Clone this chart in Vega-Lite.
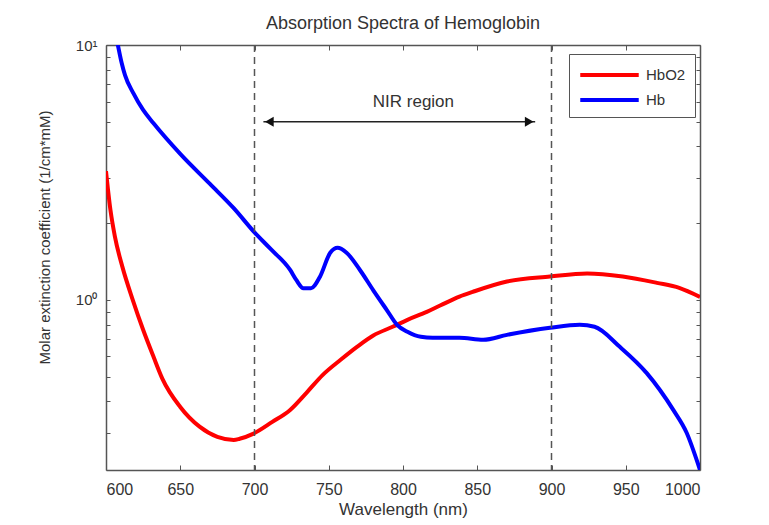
{
  "$schema": "https://vega.github.io/schema/vega-lite/v6.json",
  "width": 594,
  "height": 425,
  "autosize": {"type": "none"},
  "padding": {"left": 106, "top": 45, "right": 69, "bottom": 55},
  "background": "white",
  "config": {
    "view": {"stroke": null},
    "font": "Liberation Sans",
    "axis": {"domainColor": "#555", "tickColor": "#555", "labelColor": "#333", "labelFontSize": 16, "titleFontSize": 17, "titleFontWeight": "normal", "titleColor": "#333", "grid": false, "domainWidth": 1.5}
  },
  "title": {"text": "Absorption Spectra of Hemoglobin", "fontSize": 18, "fontWeight": "normal", "color": "#333", "offset": 5, "anchor": "middle"},
  "datasets": {
    "spectra": [
      {"wl": 600, "value": 3.2, "series": "HbO2"},
      {"wl": 603, "value": 2.25, "series": "HbO2"},
      {"wl": 606, "value": 1.77, "series": "HbO2"},
      {"wl": 611, "value": 1.35, "series": "HbO2"},
      {"wl": 618, "value": 1.0, "series": "HbO2"},
      {"wl": 625, "value": 0.763, "series": "HbO2"},
      {"wl": 632, "value": 0.598, "series": "HbO2"},
      {"wl": 638, "value": 0.49, "series": "HbO2"},
      {"wl": 650, "value": 0.38, "series": "HbO2"},
      {"wl": 663, "value": 0.318, "series": "HbO2"},
      {"wl": 675, "value": 0.29, "series": "HbO2"},
      {"wl": 686, "value": 0.282, "series": "HbO2"},
      {"wl": 690, "value": 0.285, "series": "HbO2"},
      {"wl": 699, "value": 0.298, "series": "HbO2"},
      {"wl": 712, "value": 0.332, "series": "HbO2"},
      {"wl": 724, "value": 0.37, "series": "HbO2"},
      {"wl": 735, "value": 0.432, "series": "HbO2"},
      {"wl": 746, "value": 0.508, "series": "HbO2"},
      {"wl": 758, "value": 0.582, "series": "HbO2"},
      {"wl": 769, "value": 0.654, "series": "HbO2"},
      {"wl": 780, "value": 0.725, "series": "HbO2"},
      {"wl": 793, "value": 0.784, "series": "HbO2"},
      {"wl": 803, "value": 0.835, "series": "HbO2"},
      {"wl": 816, "value": 0.897, "series": "HbO2"},
      {"wl": 825, "value": 0.95, "series": "HbO2"},
      {"wl": 838, "value": 1.03, "series": "HbO2"},
      {"wl": 847, "value": 1.075, "series": "HbO2"},
      {"wl": 870, "value": 1.18, "series": "HbO2"},
      {"wl": 899, "value": 1.235, "series": "HbO2"},
      {"wl": 924, "value": 1.27, "series": "HbO2"},
      {"wl": 948, "value": 1.235, "series": "HbO2"},
      {"wl": 971, "value": 1.166, "series": "HbO2"},
      {"wl": 986, "value": 1.115, "series": "HbO2"},
      {"wl": 1000, "value": 1.027, "series": "HbO2"},
      {"wl": 600, "value": 18, "series": "Hb"},
      {"wl": 608, "value": 10.0, "series": "Hb"},
      {"wl": 610.6, "value": 8.48, "series": "Hb"},
      {"wl": 612.8, "value": 7.62, "series": "Hb"},
      {"wl": 618.4, "value": 6.47, "series": "Hb"},
      {"wl": 625, "value": 5.56, "series": "Hb"},
      {"wl": 632, "value": 4.93, "series": "Hb"},
      {"wl": 650, "value": 3.74, "series": "Hb"},
      {"wl": 670, "value": 2.85, "series": "Hb"},
      {"wl": 686, "value": 2.29, "series": "Hb"},
      {"wl": 700, "value": 1.84, "series": "Hb"},
      {"wl": 711, "value": 1.58, "series": "Hb"},
      {"wl": 724, "value": 1.31, "series": "Hb"},
      {"wl": 728, "value": 1.2, "series": "Hb"},
      {"wl": 733, "value": 1.11, "series": "Hb"},
      {"wl": 738, "value": 1.11, "series": "Hb"},
      {"wl": 744, "value": 1.23, "series": "Hb"},
      {"wl": 751, "value": 1.53, "series": "Hb"},
      {"wl": 756, "value": 1.6, "series": "Hb"},
      {"wl": 762, "value": 1.53, "series": "Hb"},
      {"wl": 771, "value": 1.31, "series": "Hb"},
      {"wl": 780, "value": 1.09, "series": "Hb"},
      {"wl": 789, "value": 0.914, "series": "Hb"},
      {"wl": 796, "value": 0.798, "series": "Hb"},
      {"wl": 803, "value": 0.749, "series": "Hb"},
      {"wl": 812, "value": 0.716, "series": "Hb"},
      {"wl": 820, "value": 0.71, "series": "Hb"},
      {"wl": 838, "value": 0.71, "series": "Hb"},
      {"wl": 854, "value": 0.697, "series": "Hb"},
      {"wl": 870, "value": 0.729, "series": "Hb"},
      {"wl": 899, "value": 0.777, "series": "Hb"},
      {"wl": 919, "value": 0.798, "series": "Hb"},
      {"wl": 929, "value": 0.784, "series": "Hb"},
      {"wl": 946, "value": 0.654, "series": "Hb"},
      {"wl": 964, "value": 0.517, "series": "Hb"},
      {"wl": 982, "value": 0.37, "series": "Hb"},
      {"wl": 991, "value": 0.301, "series": "Hb"},
      {"wl": 1000, "value": 0.215, "series": "Hb"}
    ],
    "bounds": [{"wl": 700}, {"wl": 900}],
    "arrow": [{"from": 706, "to": 889, "level": 5}],
    "heads": [{"wl": 710, "level": 5, "dir": "l"}, {"wl": 885, "level": 5, "dir": "r"}],
    "label": [{"wl": 807, "level": 5.95, "text": "NIR region"}]
  },
  "layer": [
    {
      "data": {"name": "spectra"},
      "mark": {"type": "line", "strokeWidth": 4, "clip": true, "interpolate": "monotone"},
      "encoding": {
        "x": {"field": "wl", "type": "quantitative", "scale": {"domain": [600, 1000], "nice": false},
          "axis": {"orient": "bottom", "title": "Wavelength (nm)", "format": "d", "values": [600, 650, 700, 750, 800, 850, 900, 950, 1000], "tickSize": -5, "labelPadding": 16, "titlePadding": 4}},
        "y": {"field": "value", "type": "quantitative", "scale": {"type": "log", "domain": [0.215, 10], "nice": false},
          "axis": {"orient": "left", "title": "Molar extinction coefficient (1/cm*mM)", "titleFontSize": 15, "labelFontSize": 15, "titleY": 192, "values": [0.3, 0.4, 0.5, 0.6, 0.7, 0.8, 0.9, 1, 2, 3, 4, 5, 6, 7, 8, 9, 10], "labelExpr": "datum.value == 1 ? '10⁰' : (datum.value == 10 ? '10¹' : '')", "tickSize": -4, "labelPadding": 13, "titlePadding": 23}},
        "color": {"field": "series", "type": "nominal", "scale": {"domain": ["HbO2", "Hb"], "range": ["#ff0000", "#0000ff"]},
          "legend": {"title": null, "orient": "none", "legendX": 463, "legendY": 9, "direction": "vertical", "fillColor": "white", "strokeColor": "#555", "padding": 9, "symbolType": "M-1,0H5", "symbolSize": 380, "symbolStrokeWidth": 4, "labelFontSize": 15, "labelColor": "#333", "rowPadding": 5, "labelOffset": 44}}
      }
    },
    {
      "data": {"name": "bounds"},
      "mark": {"type": "rule", "color": "#555", "strokeDash": [7, 5], "strokeWidth": 1.5},
      "encoding": {
        "x": {"field": "wl", "type": "quantitative", "scale": {"domain": [600, 1000], "nice": false},
          "axis": {"orient": "top", "title": null, "labels": false, "values": [600, 650, 700, 750, 800, 850, 900, 950, 1000], "tickSize": -5}}
      }
    },
    {
      "data": {"name": "arrow"},
      "mark": {"type": "rule", "color": "#222", "strokeWidth": 1.5},
      "encoding": {
        "x": {"field": "from", "type": "quantitative", "axis": null},
        "x2": {"field": "to"},
        "y": {"field": "level", "type": "quantitative", "scale": {"type": "log", "domain": [0.215, 10], "nice": false},
          "axis": {"orient": "right", "title": null, "labels": false, "values": [0.3, 0.4, 0.5, 0.6, 0.7, 0.8, 0.9, 1, 2, 3, 4, 5, 6, 7, 8, 9, 10], "tickSize": -4}}
      }
    },
    {
      "data": {"name": "heads"},
      "mark": {"type": "point", "filled": true, "color": "#111", "size": 100, "opacity": 1},
      "encoding": {
        "x": {"field": "wl", "type": "quantitative", "axis": null},
        "y": {"field": "level", "type": "quantitative", "axis": null},
        "shape": {"field": "dir", "type": "nominal", "scale": {"domain": ["l", "r"], "range": ["triangle-left", "triangle-right"]}, "legend": null}
      }
    },
    {
      "data": {"name": "label"},
      "mark": {"type": "text", "fontSize": 17, "color": "#333"},
      "encoding": {
        "x": {"field": "wl", "type": "quantitative", "axis": null},
        "y": {"field": "level", "type": "quantitative", "axis": null},
        "text": {"field": "text"}
      }
    }
  ]
}
